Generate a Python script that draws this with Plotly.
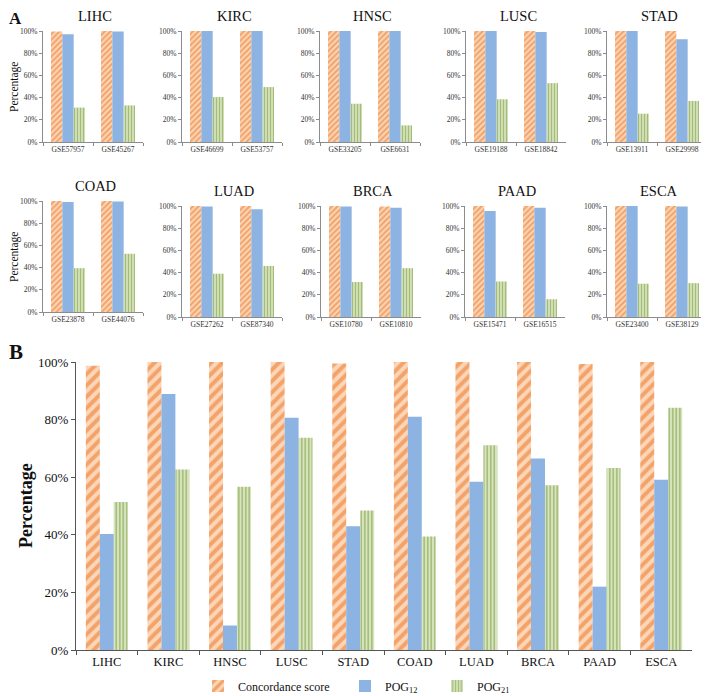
import plotly.graph_objects as go

# ── data ──────────────────────────────────────────────
cancers = ["LIHC", "KIRC", "HNSC", "LUSC", "STAD",
           "COAD", "LUAD", "BRCA", "PAAD", "ESCA"]

gse_ids = [
    ["GSE57957", "GSE45267"], ["GSE46699", "GSE53757"], ["GSE33205", "GSE6631"],
    ["GSE19188", "GSE18842"], ["GSE13911", "GSE29998"], ["GSE23878", "GSE44076"],
    ["GSE27262", "GSE87340"], ["GSE10780", "GSE10810"], ["GSE15471", "GSE16515"],
    ["GSE23400", "GSE38129"],
]

# panel A: per dataset (%)
a_conc = [[99.5, 100], [100, 100], [100, 100], [100, 100], [100, 100],
          [100, 100], [100, 100], [100, 99.5], [100, 100], [100, 100]]
a_pog12 = [[97, 99.5], [100, 100], [100, 100], [100, 99], [100, 92.5],
           [99, 99.5], [99.5, 97], [99.5, 98.5], [95.5, 98.5], [100, 99.5]]
a_pog21 = [[31, 33], [40.5, 49.5], [34.5, 15], [38.5, 53], [25.5, 37],
           [39.5, 52.5], [39, 46], [31.5, 44], [32, 16], [30, 30.5]]

# panel B: per cancer (%)
b_conc = [98.7, 100, 100, 100, 99.5, 100, 100, 100, 99.3, 100]
b_pog12 = [40.3, 88.9, 8.5, 80.6, 43.0, 81.0, 58.4, 66.5, 22.0, 59.1]
b_pog21 = [51.4, 62.7, 56.7, 73.7, 48.4, 39.4, 71.1, 57.2, 63.2, 84.1]

y_ticks = [0, 20, 40, 60, 80, 100]
y_tick_text = ["0%", "20%", "40%", "60%", "80%", "100%"]

# ── style ─────────────────────────────────────────────
# the page body keeps its 8px margin, so the figure is drawn 8px smaller
# and every target pixel position is shifted by that offset
OFF = 8
W, H = 709 - OFF, 696 - OFF
FONT = "Liberation Serif, Times New Roman, serif"
AXIS_COLOR = "#8c8c8c"
ORANGE_FG, ORANGE_BG = "#e8701f", "#fcd6b6"
BLUE = "#8db3e2"
GREEN_FG, GREEN_BG = "#6f8f35", "#d8e6be"

def px_x(v):
    return (v - OFF) / W

def px_y(v):
    return 1 - (v - OFF) / H

# small panels: (left px, top px, bottom px)
panel_pos = [
    (43, 31, 142), (182, 31, 142), (320, 31, 142), (466, 31, 142), (607, 31, 142),
    (43, 201, 312), (182, 206, 317), (321, 206, 317), (465, 206, 317), (607, 206, 317),
]
PANEL_W = 100

fig = go.Figure()

def bar_traces(x, conc, pog12, pog21, xa, ya, small, legend):
    hsize = 4 if small else 8
    vsize = 3 if small else 3.5
    return [
        go.Bar(x=x, y=conc, name="Concordance score", xaxis=xa, yaxis=ya,
               marker=dict(color=ORANGE_BG, line=dict(width=0),
                           pattern=dict(shape="/", fgcolor=ORANGE_FG, bgcolor=ORANGE_BG,
                                        size=hsize, solidity=0.5)),
               showlegend=legend, legend="legend"),
        go.Bar(x=x, y=pog12, name="POG<sub>12</sub>", xaxis=xa, yaxis=ya,
               marker=dict(color=BLUE, line=dict(width=0)),
               showlegend=legend, legend="legend2"),
        go.Bar(x=x, y=pog21, name="POG<sub>21</sub>", xaxis=xa, yaxis=ya,
               marker=dict(color=GREEN_BG, line=dict(width=0),
                           pattern=dict(shape="|", fgcolor=GREEN_FG, bgcolor=GREEN_BG,
                                        size=vsize, solidity=0.45)),
               showlegend=legend, legend="legend3"),
    ]

def label(text, x, y, size, angle=0):
    return dict(text=text, x=px_x(x), y=px_y(y), xref="paper", yref="paper",
                xanchor="center", yanchor="middle", showarrow=False, textangle=angle,
                font=dict(size=size, family=FONT, color="#111"))

layout_axes = {}
annotations = []

# ── Panel A: 10 small charts ─────────────────────────
for i, name in enumerate(cancers):
    n = i + 1
    sfx = "" if n == 1 else str(n)
    xa, ya = f"x{sfx}", f"y{sfx}"
    for tr in bar_traces(gse_ids[i], a_conc[i], a_pog12[i], a_pog21[i], xa, ya, True, False):
        fig.add_trace(tr)
    left, top, bottom = panel_pos[i]
    layout_axes[f"xaxis{sfx}"] = dict(
        domain=[px_x(left), px_x(left + PANEL_W)], anchor=ya, type="category",
        showline=True, linecolor=AXIS_COLOR, linewidth=1,
        ticks="outside", tickson="boundaries", ticklen=3, tickcolor=AXIS_COLOR,
        tickfont=dict(size=7.5, family=FONT, color="#333"), fixedrange=True,
    )
    layout_axes[f"yaxis{sfx}"] = dict(
        domain=[px_y(bottom), px_y(top)], anchor=xa, range=[0, 100],
        tickmode="array", tickvals=y_ticks, ticktext=y_tick_text,
        showgrid=False, zeroline=False,
        showline=True, linecolor=AXIS_COLOR, linewidth=1,
        ticks="outside", ticklen=3, tickcolor=AXIS_COLOR,
        tickfont=dict(size=7.5, family=FONT, color="#333"),
    )
    annotations.append(label(name, left + PANEL_W / 2 + 2, top - 15, 14.5))

for yc in (87, 257):
    annotations.append(label("Percentage", 15, yc, 11.5, -90))

# ── Panel B: summary chart ───────────────────────────
for tr in bar_traces(cancers, b_conc, b_pog12, b_pog21, "x11", "y11", False, True):
    fig.add_trace(tr)

layout_axes["xaxis11"] = dict(
    domain=[px_x(76), px_x(692)], anchor="y11", type="category",
    showline=True, linecolor="#555", linewidth=1,
    ticks="outside", tickson="boundaries", ticklen=4, tickcolor="#555",
    tickfont=dict(size=12.5, family=FONT, color="#111"),
)
layout_axes["yaxis11"] = dict(
    domain=[px_y(650), px_y(362)], anchor="x11", range=[0, 100],
    tickmode="array", tickvals=y_ticks, ticktext=y_tick_text,
    showgrid=False, zeroline=False,
    showline=True, linecolor="#555", linewidth=1,
    ticks="outside", ticklen=4, tickcolor="#555",
    tickfont=dict(size=13, family=FONT, color="#111"),
)
annotations.append(label("<b>Percentage</b>", 26, 506, 18, -90))

# panel letters
annotations.append(label("<b>A</b>", 15, 18, 17))
annotations.append(label("<b>B</b>", 16, 352, 21))

legend_style = dict(orientation="h", yanchor="middle", xanchor="left",
                    font=dict(size=12, family=FONT, color="#111"),
                    bgcolor="rgba(0,0,0,0)")

fig.update_layout(
    width=W, height=H,
    margin=dict(l=0, r=0, t=0, b=0, autoexpand=False),
    paper_bgcolor="white", plot_bgcolor="white",
    barmode="group", bargap=0.32, bargroupgap=0,
    annotations=annotations,
    legend=dict(x=px_x(198), y=px_y(686), **legend_style),
    legend2=dict(x=px_x(345), y=px_y(686), **legend_style),
    legend3=dict(x=px_x(437), y=px_y(686), **legend_style),
    **layout_axes,
)

fig.write_html("out.html")
